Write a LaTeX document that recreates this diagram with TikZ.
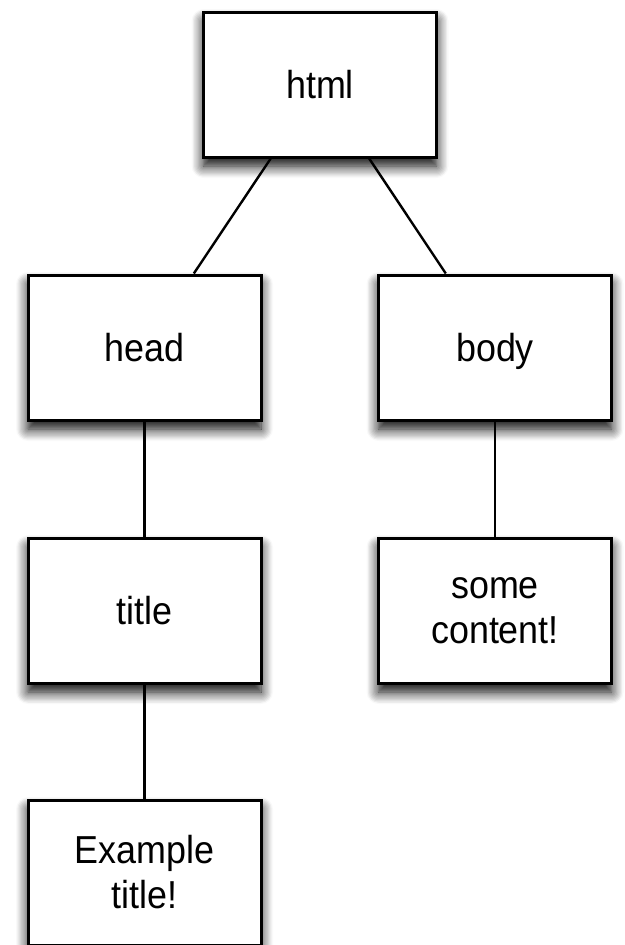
\documentclass[tikz,border=0pt]{standalone}
\usepackage{fontspec}
\setmainfont[FakeStretch=0.92]{Liberation Sans}
\usetikzlibrary{positioning,shadows.blur}

\begin{document}
\begin{tikzpicture}[tag/.style={rectangle,draw,line width=3pt,fill=white,
minimum width=233pt,minimum height=145pt,inner sep=0pt,align=center,
font=\fontsize{39}{45}\selectfont,
blur shadow={shadow xshift=0pt,shadow yshift=-9pt,shadow blur radius=12pt,
shadow blur steps=10,shadow opacity=100}},
word/.style={text depth=0pt},
edge/.style={line width=2.4pt}]

\useasboundingbox (0,0) rectangle (624pt,-945pt);

% nodes
\node[tag,word](html) at (320pt,-84.5pt){html};
\node[tag,word,below=115pt of html,xshift=-175.5pt](head){head};
\node[tag,word,below=115pt of html,xshift=175pt](body){body};
\node[tag,word,below=115pt of head](title){title};
\node[tag,below=115pt of body](content){some\\content!};
\node[tag,below=114pt of title](text){Example\\title!};

% edges
\draw[edge] (html) -- (head);
\draw[edge] (html) -- (body);
\draw[edge] (head) -- (title);
\draw[edge] (body) -- (content);
\draw[edge] (title) -- (text);

\end{tikzpicture}
\end{document}
